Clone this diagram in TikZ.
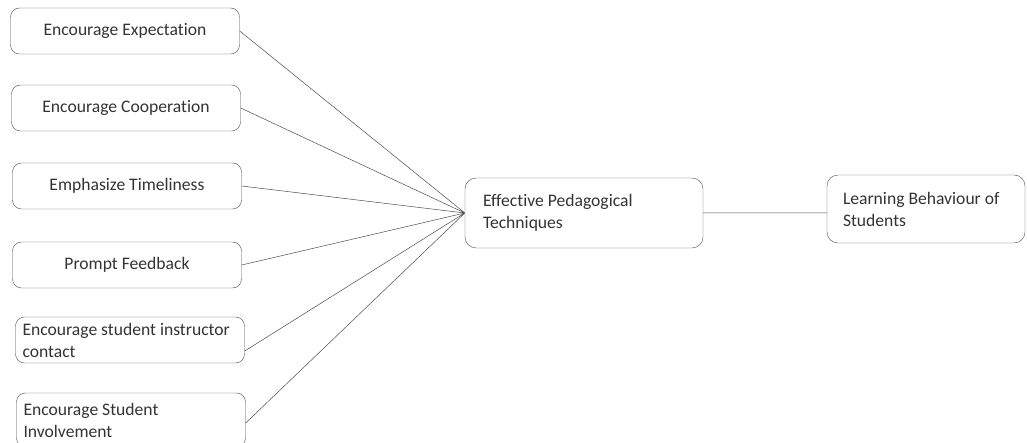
\documentclass[tikz,border=0pt]{standalone}
\usepackage{fontspec}
\setmainfont[Ligatures=NoCommon]{Carlito}
\usepackage{tikz}
\usetikzlibrary{positioning}

\tikzset{
  factor/.style={draw=black!70, rounded corners=9pt, minimum width=229pt, minimum height=46pt, text=black!80},
  factorl/.style={factor, align=flush left, text width=215pt, inner xsep=7pt},
  bigbox/.style={draw=black!70, rounded corners=11pt, align=flush left, text=black!80},
  link/.style={draw=black!70, line width=0.5pt}
}

\begin{document}
\begin{tikzpicture}[x=1pt, y=-1pt, font=\fontsize{17.6}{22}\selectfont]
      \useasboundingbox (0, 0) rectangle (1027, 443);
      \node (expect) [factor] at (125, 31) {Encourage Expectation};
      \node (coop) [factor] at (126, 108) {Encourage Cooperation};
      \node (time) [factor] at (127, 186) {Emphasize Timeliness};
      \node (feed) [factor] at (127, 265) {Prompt Feedback};
      \node (contact) [factorl] at (130, 340) {Encourage student instructor\\contact};
      \node (involve) [factorl, minimum height=54pt] at (131, 420) {Encourage Student\\Involvement};
      \node (ept) [bigbox, text width=202pt, inner xsep=18pt, minimum height=70pt] at (584, 213)
            {Effective Pedagogical\\Techniques};
      \node (lbs) [bigbox, text width=166pt, inner xsep=16pt, minimum height=68pt] at (926, 209)
            {Learning Behaviour of\\Students};
      \draw[link] (expect.east) -- (ept.west)
                  (coop.east) -- (ept.west)
                  (time.east) -- (ept.west)
                  (feed.east) -- (ept.west)
                  ([yshift=-11pt]contact.east) -- (ept.west)
                  ([yshift=-3pt]involve.east) -- (ept.west)
                  (ept.east) -- (ept.east -| lbs.west);
\end{tikzpicture}
\end{document}
